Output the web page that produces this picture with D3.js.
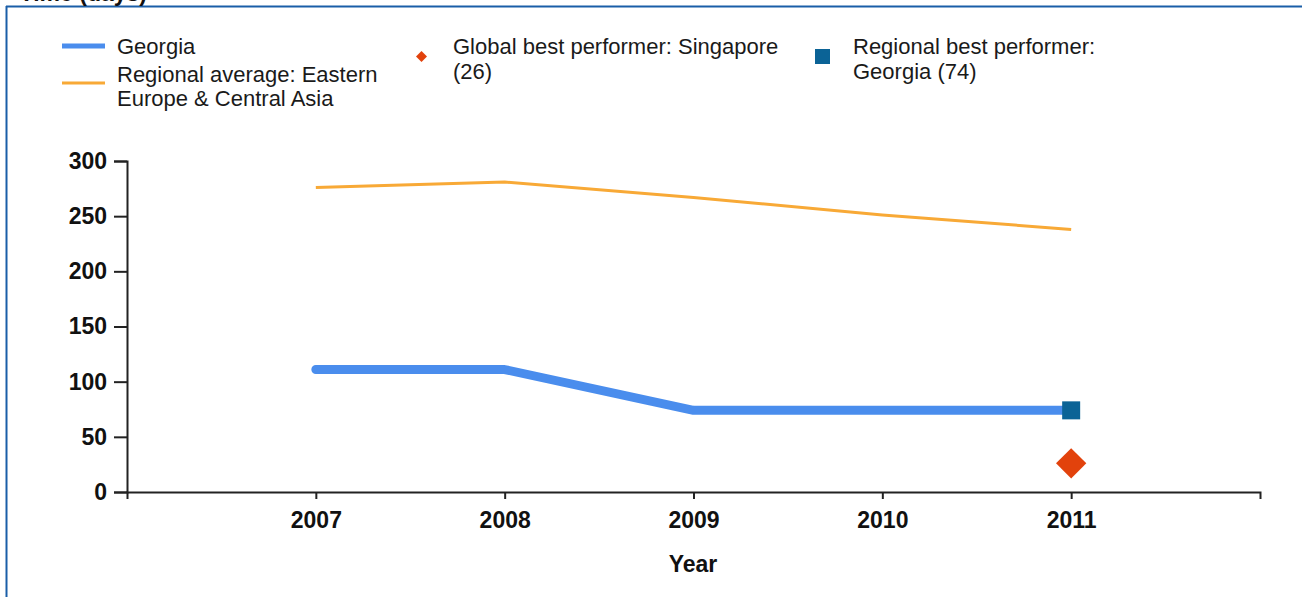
<!DOCTYPE html>
<html><head><meta charset="utf-8">
<script src="https://cdn.jsdelivr.net/npm/d3@7"></script>
<style>
html,body{margin:0;padding:0;background:#fff;}
svg{display:block;}
text{font-family:"Liberation Sans",Arial,sans-serif;}
</style></head>
<body>
<svg id="chart" width="1302" height="597"></svg>
<script>
const years = [2007, 2008, 2009, 2010, 2011];
const georgia = [111, 111, 74, 74, 74];
const regionalAvg = [276, 281, 267, 251, 238];
const globalBest = {year: 2011, value: 26};
const regionalBest = {year: 2011, value: 74};
const yTicks = [0, 50, 100, 150, 200, 250, 300];
const legendLabels = {
  georgia: ["Georgia"],
  regional: ["Regional average: Eastern", "Europe & Central Asia"],
  global: ["Global best performer: Singapore", "(26)"],
  regionalBest: ["Regional best performer:", "Georgia (74)"]
};
const titleText = "Time (days)";
const xTitle = "Year";

const svg = d3.select("#chart");
const colGeorgia = "#4a8ded", colAvg = "#f8a936", colGlobal = "#e2420c", colRegBest = "#0b6396";

// frame
svg.append("line").attr("x1",6.5).attr("x2",6.5).attr("y1",6).attr("y2",597).attr("stroke","#1a5ea8").attr("stroke-width",2);
svg.append("line").attr("x1",6).attr("x2",1302).attr("y1",6.5).attr("y2",6.5).attr("stroke","#1a5ea8").attr("stroke-width",2);

// title (cut off at the top edge, as in the reference)
svg.append("text").attr("x",147).attr("y",1).attr("text-anchor","end")
  .attr("font-weight","bold").attr("font-size",23).attr("fill","#111").text(titleText);

const x = d3.scaleLinear().domain([2006, 2012]).range([127, 1260]);
const y = d3.scaleLinear().domain([0, 300]).range([492, 161]);

// axes
const xAxis = d3.axisBottom(x).tickValues(years).tickFormat(d3.format("d")).tickSize(7).tickSizeOuter(7).tickPadding(13);
const gx = svg.append("g").attr("transform","translate(0,492)").call(xAxis);
gx.selectAll("path, line").attr("stroke","#222").attr("stroke-width",2);
gx.selectAll("text").attr("font-size",23).attr("font-weight","bold").attr("fill","#111")
  .attr("font-family","'Liberation Sans',Arial,sans-serif");

const yAxis = d3.axisLeft(y).tickValues(yTicks).tickSize(13).tickSizeOuter(13).tickPadding(7);
const gy = svg.append("g").attr("transform","translate(127,0)").call(yAxis);
gy.selectAll("path, line").attr("stroke","#222").attr("stroke-width",2);
gy.selectAll("text").attr("font-size",23).attr("font-weight","bold").attr("fill","#111")
  .attr("font-family","'Liberation Sans',Arial,sans-serif");

svg.append("text").attr("x",693).attr("y",572).attr("text-anchor","middle")
  .attr("font-weight","bold").attr("font-size",23).attr("fill","#111").text(xTitle);

// lines
const line = d3.line().x((d,i)=>x(years[i])).y(d=>y(d));
svg.append("path").datum(regionalAvg).attr("d",line).attr("fill","none")
  .attr("stroke",colAvg).attr("stroke-width",3).attr("stroke-linejoin","round");
svg.append("path").datum(georgia).attr("d",line).attr("fill","none")
  .attr("stroke",colGeorgia).attr("stroke-width",9).attr("stroke-linecap","round").attr("stroke-linejoin","round");

// markers
svg.append("rect").attr("x",x(regionalBest.year)-9).attr("y",y(regionalBest.value)-9)
  .attr("width",18).attr("height",18).attr("fill",colRegBest);
svg.append("path").attr("d",d3.symbol(d3.symbolSquare, 460)())
  .attr("transform",`translate(${x(globalBest.year)},${y(globalBest.value)}) rotate(45)`).attr("fill",colGlobal);

// legend
const lg = svg.append("g").attr("font-size",22).attr("fill","#1a1a1a");
lg.append("line").attr("x1",62).attr("x2",105).attr("y1",46).attr("y2",46).attr("stroke",colGeorgia).attr("stroke-width",5);
lg.append("text").attr("x",117).attr("y",54).text(legendLabels.georgia[0]);
lg.append("line").attr("x1",62).attr("x2",105).attr("y1",83).attr("y2",83).attr("stroke",colAvg).attr("stroke-width",3);
legendLabels.regional.forEach((t,i)=>lg.append("text").attr("x",117).attr("y",82+i*24).text(t));

lg.append("path").attr("d",d3.symbol(d3.symbolSquare, 60)())
  .attr("transform","translate(421.5,56.5) rotate(45)").attr("fill",colGlobal);
legendLabels.global.forEach((t,i)=>lg.append("text").attr("x",453).attr("y",54+i*25).text(t));

lg.append("rect").attr("x",815).attr("y",49).attr("width",15).attr("height",15).attr("fill",colRegBest);
legendLabels.regionalBest.forEach((t,i)=>lg.append("text").attr("x",853).attr("y",54+i*25).text(t));
</script>
</body></html>
